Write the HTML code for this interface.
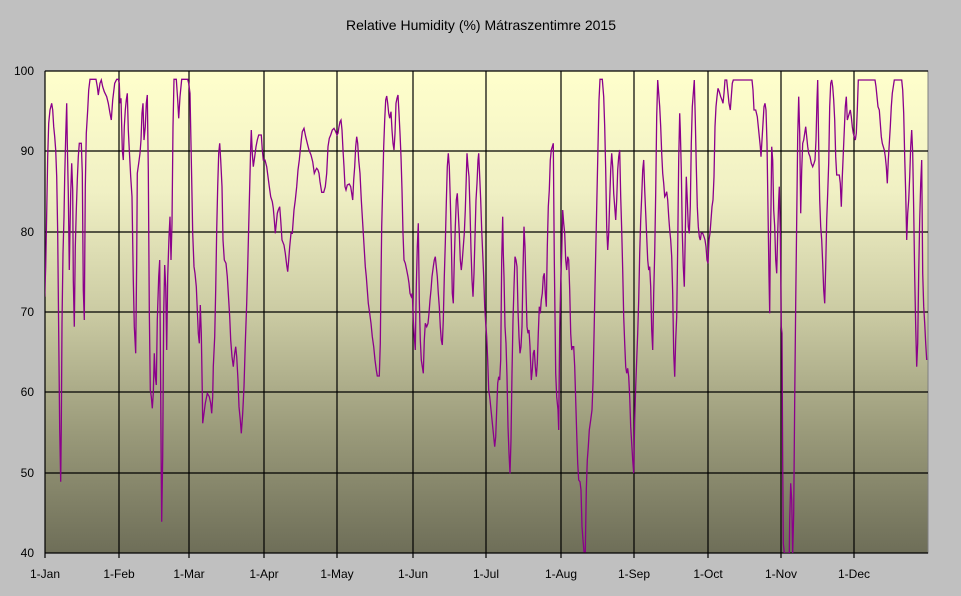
<!DOCTYPE html>
<html><head><meta charset="utf-8"><style>
body{margin:0;background:#c0c0c0;width:961px;height:596px;overflow:hidden;font-family:"Liberation Sans",Arial,sans-serif}
</style></head><body>
<svg id="s" width="961" height="596" xmlns="http://www.w3.org/2000/svg" style="position:absolute;left:0;top:0">
<defs>
<linearGradient id="g" x1="0" y1="0" x2="0" y2="1">
<stop offset="0" stop-color="#ffffcc"/>
<stop offset="0.25" stop-color="#f0f0c4"/>
<stop offset="0.5" stop-color="#cbcba3"/>
<stop offset="0.75" stop-color="#9a9a7a"/>
<stop offset="1" stop-color="#6e6e58"/>
</linearGradient>
<clipPath id="c"><rect x="45" y="71" width="883" height="482"/></clipPath>
</defs>
<rect x="45" y="71" width="883" height="482" fill="url(#g)" stroke="#808080" stroke-width="1"/>
<g id="grid" stroke="#000" stroke-width="1.2"></g>
<polyline id="ln" clip-path="url(#c)" fill="none" stroke="#8b008b" stroke-width="1.3" stroke-linejoin="miter"/>
<g id="lab" font-size="12" fill="#000"></g>
<text x="481" y="30" font-size="14" text-anchor="middle">Relative Humidity (%) Mátraszentimre 2015</text>
</svg>
<script>
var ns="http://www.w3.org/2000/svg";
function el(t,a,p,txt){var e=document.createElementNS(ns,t);for(var k in a)e.setAttribute(k,a[k]);if(txt)e.textContent=txt;p.appendChild(e);return e;}
var g=document.getElementById('grid'),lab=document.getElementById('lab');
var ys=[71,151,232,312,392,473,553],vals=[100,90,80,70,60,50,40];
ys.forEach(function(y,i){el('line',{x1:45,x2:928,y1:y,y2:y},g);el('text',{x:34,y:y+4,'text-anchor':'end'},lab,vals[i]);});
var mx=[45,119,189,264,337,413,486,561,634,708,781,854],mn=['1-Jan','1-Feb','1-Mar','1-Apr','1-May','1-Jun','1-Jul','1-Aug','1-Sep','1-Oct','1-Nov','1-Dec'];
mx.forEach(function(x,i){el('line',{x1:x,x2:x,y1:71,y2:558},g);el('text',{x:x,y:578,'text-anchor':'middle'},lab,mn[i]);});
var z1=[14,710,17,620,20,460,23,290,26,190,30,150,35,130,38,150,41,200,44,230,47,270,50,350,53,520,56,820,59,1110,62,1265,64,1100,66,790,69,580,72,470,74,350,77,230,80,130,82,250,85,400,88,630,90,510,92,400,95,310,98,390,100,660,103,800,106,560,109,450,112,360,115,290,118,250,124,250,127,340,130,690,133,780,136,380,139,220,143,150,146,90,150,58,168,58,172,80,175,105,180,70,184,60,188,80,193,95,200,110,205,130,210,160,214,180,218,120,224,70,230,58,235,58,238,70,240,130,243,115,247,270,250,300,253,200,256,150,259,120,262,100,265,210,268,270,272,350,276,410,280,660,283,800,287,880,290,600,292,340,296,310,300,280,303,240,306,160,309,130,312,240,316,200,319,130,322,105,325,330,328,750,331,990,334,1010,337,1045,340,1000,343,880,346,950,349,975,352,780,356,650,359,600,362,1000,364,1250,365,1385,368,1190,371,760,374,615,377,680,380,870,383,650,387,530,390,470,393,600,396,490,399,200,402,58,409,58,413,120,416,175,420,110,425,58,443,58,446,70,450,100,455,360,458,520,462,620,465,640,469,680,472,750,475,820,478,850,481,735,484,820,487,1000,488,1090,492,1060,496,1030,502,1000,508,1010,512,1030,515,1060,518,1010,520,920,524,830,527,690,530,510,533,380,536,280,539,250,542,300,546,380,549,540,553,600,558,610,562,650,565,700,569,770,572,840,576,890,580,920,584,880,587,860,590,890,594,960,597,1040,601,1080,604,1120,608,1060,612,980,616,850,620,730,623,620,626,500,629,380,632,260,634,210,637,280,640,320,644,290,648,260,652,240,656,225,664,225,667,270,670,300,675,300,680,320,684,350,688,380,692,410,697,425,700,445,703,480,706,520,709,490,712,460,715,450,719,440,722,480,726,540,732,555,736,580,740,615,743,635,746,600,749,560,753,520,757,520,762,450,766,420,770,380,774,330,778,300,781,270,784,240,787,215,792,205,797,230,802,250,807,270,813,285,818,305,823,340,827,330,830,325,834,330,837,340,840,365,845,397,851,397,856,380,860,340,864,260,868,235,872,225,877,210,882,205,887,215,891,225,894,220,897,200,900,185];
var z2=[33,180,36,210,39,270,42,320,45,380,48,390,52,375,58,372,62,380,65,400,68,420,71,360,74,320,77,260,80,230,83,250,86,300,90,340,94,420,97,470,100,520,103,570,106,620,109,650,112,690,115,730,119,760,123,790,127,830,131,860,135,900,139,930,142,948,148,948,151,850,153,660,155,500,158,380,161,260,164,180,167,120,170,108,173,130,176,160,179,175,183,155,186,210,189,250,192,270,195,220,198,130,201,115,204,105,207,160,210,220,213,290,216,390,219,520,222,600,226,610,230,630,234,650,237,670,240,700,244,710,247,700,250,780,253,830,256,870,259,680,262,560,265,490,268,720,271,840,274,900,277,920,280,940,283,840,286,790,290,800,294,790,297,760,300,720,303,690,306,650,310,620,313,600,316,590,319,620,322,650,325,700,328,740,331,800,334,840,337,855,340,780,343,650,346,550,349,430,352,320,355,280,358,320,361,420,364,540,367,700,370,730,373,600,376,500,379,420,382,400,385,460,388,520,391,600,394,630,397,600,400,560,403,520,406,450,409,350,411,280,414,320,417,350,420,450,423,570,426,660,429,710,432,640,435,530,438,420,441,370,444,300,446,280,449,350,452,420,455,510,458,580,461,650,464,740,467,790,470,830,473,900,476,990,479,1010,482,1040,485,1070,488,1100,491,1130,494,1160,497,1130,500,1050,503,970,506,950,509,960,512,900,515,600,518,470,520,580,522,650,525,800,528,850,531,950,534,1100,537,1180,540,1240,543,1140,546,940,549,780,552,680,555,590,558,600,561,620,564,750,567,830,570,880,573,860,576,800,579,630,582,500,585,560,588,690,591,800,594,820,597,810,600,860,604,960,607,930,610,880,613,870,616,920,619,950,622,910,625,820,628,740,631,760,634,720,637,700,640,650,643,640,646,700,649,740,652,560,655,440,658,390,661,300,664,270,667,260,670,250,673,600,677,940,680,1010,684,1050,686,1110,689,810,692,670,695,580,698,450,701,490,704,520,707,600,710,630,713,590,716,600,719,690,722,820,725,870,728,860,731,860,734,920,737,1020,740,1120,743,1210,746,1260,750,1265,753,1290,756,1400,759,1440,762,1475,766,1475,769,1290,772,1200,775,1160,778,1110,782,1080,786,1050,789,970,792,830,795,680,798,540,801,400,804,260,807,120,810,58,817,58,821,110,824,200,827,330,830,500,833,570,836,520,839,420,842,330,845,280,848,320,851,400,854,440,857,480,860,420,863,330,866,290,869,270,872,410,875,510,878,630,881,770,884,850,887,920,890,940,893,925,896,950,899,1010];
var z3=[17,1100,20,1150,23,1200,26,1240,29,1080,32,980,35,900,38,820,41,720,44,580,47,480,50,410,53,330,56,300,59,390,62,460,65,530,68,600,71,630,74,620,77,680,80,810,83,870,86,700,89,580,92,400,95,170,98,60,101,100,104,140,107,200,110,280,113,340,116,370,119,410,122,405,125,395,128,420,131,470,134,510,137,540,140,590,143,700,146,880,149,950,152,840,155,770,158,560,161,300,164,160,166,210,169,330,172,520,175,620,178,680,181,520,184,350,187,420,190,500,193,520,196,440,199,250,202,140,205,100,208,60,211,180,214,320,217,440,220,500,223,530,226,540,229,520,233,520,237,530,240,540,243,560,246,600,249,610,252,540,255,520,258,480,261,440,264,420,267,350,270,200,273,140,276,110,279,85,283,95,287,110,291,120,294,130,297,100,300,60,305,60,308,90,312,130,316,150,319,110,322,70,325,60,381,60,384,90,387,150,392,150,397,170,400,200,403,230,406,260,408,290,411,240,414,190,417,140,420,130,423,150,426,250,429,450,432,650,434,760,436,560,438,440,440,260,443,300,446,450,449,500,452,600,455,640,458,520,461,420,463,380,466,520,469,800,471,820,473,1210,475,1450,478,1480,493,1480,494,1380,497,1270,500,1320,503,1480,506,1360,509,1020,512,730,515,480,518,230,521,110,524,220,527,460,530,330,533,250,536,240,539,220,542,200,545,230,548,260,551,280,555,290,559,310,563,320,567,310,570,300,573,240,576,120,578,60,581,260,584,420,587,500,590,540,593,610,596,690,599,730,602,620,605,480,608,400,611,310,614,140,617,70,620,60,623,80,626,120,629,180,632,290,635,345,643,345,646,370,649,440,652,350,655,280,658,210,661,140,664,110,667,180,670,170,673,160,676,150,679,170,682,200,685,220,688,230,691,240,694,220,697,150,700,60,750,60,753,80,756,110,759,140,763,150,766,190,769,230,772,250,775,260,778,270,781,290,784,320,787,370,790,300,793,250,796,200,799,140,802,100,805,80,808,60,830,60,833,90,836,160,839,290,842,400,845,540,848,460,851,420,854,350,857,260,860,210,863,280,866,450,869,650,872,800,875,920,878,850,881,640,884,480,887,370,890,300,893,640,896,740,899,790,902,850,905,900];
var pts=[];
function add(a,ox){for(var i=0;i<a.length;i+=2)pts.push((ox+a[i]/3).toFixed(1)+','+(60+a[i+1]/3).toFixed(1));}
add(z1,40);add(z2,330);add(z3,625);
document.getElementById('ln').setAttribute('points',pts.join(' '));
</script>
</body></html>
